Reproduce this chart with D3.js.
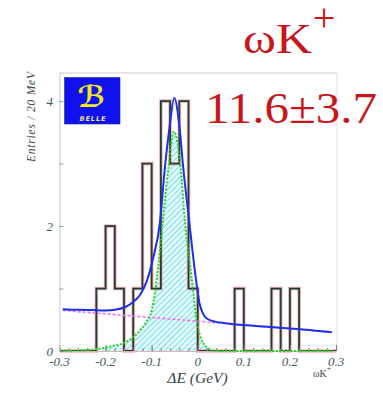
<!DOCTYPE html>
<html>
<head>
<meta charset="utf-8">
<script src="https://cdn.jsdelivr.net/npm/d3@7"></script>
<style>
    body { margin: 0; background: #fff; }
    svg { display: block; }
</style>
</head>
<body>
<svg width="383" height="395" class="container"></svg>
<script>
// histogram: lower bin edges (GeV) and entries per 20 MeV
var binEdges = [-0.30, -0.28, -0.26, -0.24, -0.22, -0.20, -0.18, -0.16, -0.14, -0.12,
                -0.10, -0.08, -0.06, -0.04, -0.02, 0.00, 0.02, 0.04, 0.06, 0.08,
                0.10, 0.12, 0.14, 0.16, 0.18, 0.20, 0.22, 0.24, 0.26, 0.28, 0.30];
var binCounts = [0, 0, 0, 0, 1, 2, 1, 0, 1, 3,
                 1, 4, 3, 4, 1, 0, 0, 0, 0, 1,
                 0, 0, 0, 1, 0, 1, 0, 0, 0, 0];

// total fit (blue)
var fitX = [-0.293, -0.26, -0.23, -0.2, -0.18, -0.158, -0.141, -0.125, -0.111, -0.097,
            -0.082, -0.0715, -0.0607, -0.051, -0.04, -0.0313, -0.0183, -0.006, 0.0046,
            0.0196, 0.0376, 0.06, 0.091, 0.15, 0.2, 0.25, 0.291];
var fitY = [0.67, 0.66, 0.655, 0.65, 0.66, 0.70, 0.78, 0.90, 1.11, 1.48,
            2.06, 2.92, 3.61, 4.05, 3.61, 2.92, 2.06, 1.27, 0.74,
            0.52, 0.47, 0.445, 0.42, 0.39, 0.36, 0.33, 0.30];

// signal component (green, hatched)
var sigX = [-0.293, -0.26, -0.22, -0.19, -0.16, -0.14, -0.125, -0.113, -0.1, -0.093,
            -0.0854, -0.076, -0.0639, -0.0515, -0.037, -0.0276, -0.0167, -0.0096, -0.004,
            0.0046, 0.0196, 0.038, 0.08, 0.15, 0.22, 0.291];
var sigY = [0.0, 0.01, 0.03, 0.07, 0.13, 0.22, 0.33, 0.45, 0.65, 0.92,
            1.38, 2.06, 2.92, 3.51, 2.92, 2.06, 1.38, 0.95, 0.55,
            0.26, 0.06, 0.0, 0.0, 0.0, 0.0, 0.0];

// background component (magenta)
var bkgX = [-0.293, 0.291];
var bkgY = [0.65, 0.305];

var xTickVals = [-0.3, -0.2, -0.1, 0, 0.1, 0.2, 0.3];
var xTickLabels = ['-0.3', '-0.2', '-0.1', '0', '0.1', '0.2', '0.3'];
var yTickVals = [0, 2, 4];
var yTickLabels = ['0', '2', '4'];

var svg = d3.select('.container');

var x = d3.scaleLinear().domain([-0.3, 0.3]).range([59.5, 336]),
    y = d3.scaleLinear().domain([0, 4.45]).range([351, 73]);

var d3Translate = function(tx, ty) {
    return 'translate(' + tx + ', ' + ty + ')';
};

var zip = function(xs, ys) {
    return xs.map(function(v, i) { return [v, ys[i]]; });
};

// hatch pattern
var defs = svg.append('defs');
var pat = defs.append('pattern')
    .attr('id', 'hatch')
    .attr('patternUnits', 'userSpaceOnUse')
    .attr('width', 4)
    .attr('height', 4)
    .attr('patternTransform', 'rotate(45)');
pat.append('rect').attr('width', 4).attr('height', 4).attr('fill', '#e6fbfc');
pat.append('line')
    .attr('x1', 0).attr('y1', 0).attr('x2', 0).attr('y2', 4)
    .attr('stroke', '#74e0ea')
    .attr('stroke-width', 2);

// frame
svg.append('rect')
    .attr('x', x(-0.3))
    .attr('y', y(4.45))
    .attr('width', x(0.3) - x(-0.3) + 1)
    .attr('height', y(0) - y(4.45))
    .attr('fill', 'none')
    .attr('stroke', '#d9e2e6')
    .attr('stroke-width', 1);
svg.append('line')
    .attr('x1', x(-0.3)).attr('x2', x(0.3) + 1)
    .attr('y1', y(4.45)).attr('y2', y(4.45))
    .attr('stroke', '#ecd6d6');

// signal fill
var sigPts = zip(sigX, sigY);
svg.append('path')
    .datum(sigPts)
    .attr('d', d3.area()
        .x(function(d) { return x(d[0]); })
        .y0(y(0))
        .y1(function(d) { return y(d[1]); })
        .curve(d3.curveMonotoneX))
    .attr('fill', 'url(#hatch)');

// histogram
var histPts = binEdges.map(function(e, i) {
    return [e, i < binCounts.length ? binCounts[i] : binCounts[binCounts.length - 1]];
});
var histLine = d3.line()
    .x(function(d) { return x(d[0]); })
    .y(function(d) { return y(d[1]); })
    .curve(d3.curveStepAfter);
svg.append('path')
    .datum(histPts)
    .attr('d', histLine)
    .attr('fill', 'none')
    .attr('stroke', '#f2b3b3')
    .attr('stroke-width', 3.6);
svg.append('path')
    .datum(histPts)
    .attr('d', histLine)
    .attr('fill', 'none')
    .attr('stroke', '#1f3d3a')
    .attr('stroke-width', 1.8);

// axes
var xAxis = d3.axisBottom(x)
    .tickValues(d3.range(-0.3, 0.3001, 0.02))
    .tickSize(-3)
    .tickFormat('');
svg.append('g')
    .attr('transform', d3Translate(0, y(0)))
    .call(xAxis)
    .call(function(g) {
        g.select('.domain').attr('stroke', '#e3b0b0');
        g.selectAll('.tick line').attr('stroke', '#6f8a88');
    });
svg.append('g')
    .attr('transform', d3Translate(0, y(0)))
    .call(d3.axisBottom(x).tickValues(xTickVals).tickSize(-6).tickFormat(''))
    .call(function(g) {
        g.select('.domain').remove();
        g.selectAll('.tick line').attr('stroke', '#6f8a88');
    });
svg.append('g')
    .attr('transform', d3Translate(x(-0.3), 0))
    .call(d3.axisLeft(y).tickValues([0, 1, 2, 3, 4]).tickSize(-4).tickFormat(''))
    .call(function(g) {
        g.select('.domain').attr('stroke', '#cfdada');
        g.selectAll('.tick line').attr('stroke', '#8aa0a0');
    });

svg.selectAll('.xlab')
    .data(xTickVals)
    .enter().append('text')
    .attr('class', 'xlab')
    .attr('x', function(d) { return x(d); })
    .attr('y', 366)
    .attr('text-anchor', 'middle')
    .attr('font-family', 'Liberation Serif')
    .attr('font-style', 'italic')
    .attr('font-size', 13)
    .attr('fill', '#3f5a5a')
    .text(function(d, i) { return xTickLabels[i]; });

svg.selectAll('.ylab')
    .data(yTickVals)
    .enter().append('text')
    .attr('class', 'ylab')
    .attr('x', 53)
    .attr('y', function(d) { return y(d) + 4.5; })
    .attr('text-anchor', 'end')
    .attr('font-family', 'Liberation Serif')
    .attr('font-style', 'italic')
    .attr('font-size', 13)
    .attr('fill', '#3f5a5a')
    .text(function(d, i) { return yTickLabels[i]; });

svg.append('text')
    .attr('transform', d3Translate(35, 117) + ' rotate(-90)')
    .attr('text-anchor', 'middle')
    .attr('font-family', 'Liberation Serif')
    .attr('font-style', 'italic')
    .attr('font-size', 11.5)
    .attr('textLength', 90)
    .attr('fill', '#3c4747')
    .text('Entries / 20 MeV');

svg.append('text')
    .attr('x', 197.5)
    .attr('y', 383)
    .attr('text-anchor', 'middle')
    .attr('font-family', 'Liberation Serif')
    .attr('font-style', 'italic')
    .attr('font-size', 15.5)
    .attr('fill', '#354545')
    .text('ΔE (GeV)');

var small = svg.append('text')
    .attr('x', 313)
    .attr('y', 377)
    .attr('font-family', 'Liberation Serif')
    .attr('font-size', 10)
    .attr('fill', '#354545');
small.append('tspan').text('ωK');
small.append('tspan').attr('dy', -6).attr('font-size', 8).text('+');

// fit curves
var curveLine = d3.line()
    .x(function(d) { return x(d[0]); })
    .y(function(d) { return y(d[1]); })
    .curve(d3.curveMonotoneX);

svg.append('path')
    .datum(zip(bkgX, bkgY))
    .attr('d', curveLine)
    .attr('fill', 'none')
    .attr('stroke', '#f070ee')
    .attr('stroke-width', 1.6)
    .attr('stroke-dasharray', '3,2');

svg.append('path')
    .datum(sigPts)
    .attr('d', curveLine)
    .attr('fill', 'none')
    .attr('stroke', '#1fd41f')
    .attr('stroke-width', 2)
    .attr('stroke-dasharray', '2,1.6');

svg.append('path')
    .datum(zip(fitX, fitY))
    .attr('d', curveLine)
    .attr('fill', 'none')
    .attr('stroke', '#1f2fee')
    .attr('stroke-width', 2);

// Belle logo
var logo = svg.append('g').attr('transform', d3Translate(64.5, 77.5));
logo.append('rect')
    .attr('width', 55.5)
    .attr('height', 46.5)
    .attr('fill', '#0f12ee')
    .attr('stroke', '#2a2a8a')
    .attr('stroke-width', 0.6);
logo.append('text')
    .attr('x', 27)
    .attr('y', 29)
    .attr('text-anchor', 'middle')
    .attr('font-family', 'DejaVu Sans')
    .attr('font-weight', 'bold')
    .attr('font-size', 30)
    .attr('fill', '#f3ea1a')
    .text('ℬ');
logo.append('text')
    .attr('x', 28)
    .attr('y', 43)
    .attr('text-anchor', 'middle')
    .attr('font-family', 'DejaVu Sans')
    .attr('font-style', 'italic')
    .attr('font-weight', 'bold')
    .attr('font-size', 6.5)
    .attr('textLength', 26)
    .attr('fill', '#e8e070')
    .text('BELLE');

// channel and yield
svg.append('text')
    .attr('x', 243)
    .attr('y', 53)
    .attr('font-family', 'Liberation Serif')
    .attr('font-size', 42)
    .attr('textLength', 69)
    .attr('lengthAdjust', 'spacingAndGlyphs')
    .attr('fill', '#c8161b')
    .text('ωK');
svg.append('text')
    .attr('x', 324)
    .attr('y', 31)
    .attr('text-anchor', 'middle')
    .attr('font-family', 'Liberation Serif')
    .attr('font-size', 40)
    .attr('fill', '#c8161b')
    .text('+');

svg.append('text')
    .attr('x', 205)
    .attr('y', 123)
    .attr('font-family', 'Liberation Serif')
    .attr('font-size', 44)
    .attr('textLength', 172)
    .attr('lengthAdjust', 'spacingAndGlyphs')
    .attr('fill', '#c8161b')
    .text('11.6±3.7');
</script>
</body>
</html>
